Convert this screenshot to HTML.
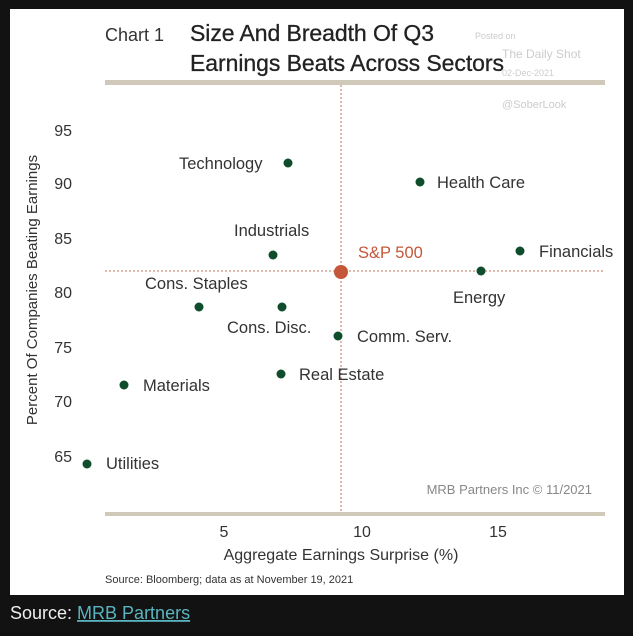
<!DOCTYPE html>
<html><head><meta charset="utf-8"><style>
body{margin:0;background:#111;width:633px;height:631px;overflow:hidden;font-family:"Liberation Sans",sans-serif}
</style></head><body>
<svg width="633" height="631" viewBox="0 0 633 631" xmlns="http://www.w3.org/2000/svg" font-family="Liberation Sans, sans-serif">
<rect x="0" y="0" width="633" height="631" fill="#121212"/>
<rect x="10" y="9" width="614" height="586" fill="#fff"/>
<text x="105" y="41" font-size="18" fill="#333">Chart 1</text>
<text x="190" y="41" font-size="23" fill="#222" stroke="#222" stroke-width="0.3" textLength="244">Size And Breadth Of Q3</text>
<text x="190" y="71" font-size="23" fill="#222" stroke="#222" stroke-width="0.3" textLength="314">Earnings Beats Across Sectors</text>
<text x="475" y="39" font-size="9" fill="#ccc">Posted on</text>
<text x="502" y="58" font-size="12" fill="#ccc">The Daily Shot</text>
<text x="502" y="76" font-size="9" fill="#ccc">02-Dec-2021</text>
<text x="502" y="108" font-size="11" fill="#ccc">@SoberLook</text>
<rect x="105" y="80" width="500" height="5" fill="#d0c8b8"/>
<rect x="105" y="512" width="500" height="4" fill="#d0c8b8"/>
<line x1="341" y1="85" x2="341" y2="512" stroke="#c0735a" stroke-width="1" stroke-dasharray="2,2"/>
<line x1="105" y1="271" x2="605" y2="271" stroke="#c0735a" stroke-width="1" stroke-dasharray="2,2"/>
<g font-size="16" fill="#333" text-anchor="end">
<text x="72" y="136">95</text><text x="72" y="189">90</text><text x="72" y="244">85</text>
<text x="72" y="298">80</text><text x="72" y="353">75</text><text x="72" y="407">70</text><text x="72" y="462">65</text>
</g>
<g font-size="16" fill="#333" text-anchor="middle">
<text x="224" y="537">5</text><text x="362" y="537">10</text><text x="498" y="537">15</text>
<text x="341" y="560">Aggregate Earnings Surprise (%)</text>
</g>
<text transform="translate(37,290) rotate(-90)" font-size="15" fill="#333" text-anchor="middle">Percent Of Companies Beating Earnings</text>
<text x="105" y="583" font-size="11" fill="#333">Source: Bloomberg; data as at November 19, 2021</text>
<text x="592" y="494" font-size="13" fill="#888" text-anchor="end">MRB Partners Inc © 11/2021</text>
<g fill="#0f4d2c">
<circle cx="288" cy="163" r="4.5"/><circle cx="420" cy="182" r="4.5"/><circle cx="273" cy="255" r="4.5"/>
<circle cx="520" cy="251" r="4.5"/><circle cx="481" cy="271" r="4.5"/><circle cx="199" cy="307" r="4.5"/>
<circle cx="282" cy="307" r="4.5"/><circle cx="338" cy="336" r="4.5"/><circle cx="124" cy="385" r="4.5"/>
<circle cx="281" cy="374" r="4.5"/><circle cx="87" cy="464" r="4.5"/>
</g>
<circle cx="341" cy="272" r="7" fill="#c4573a"/>
<g font-size="16.5" fill="#333">
<text x="179" y="169">Technology</text>
<text x="437" y="188">Health Care</text>
<text x="234" y="236">Industrials</text>
<text x="539" y="257">Financials</text>
<text x="453" y="303">Energy</text>
<text x="145" y="289">Cons. Staples</text>
<text x="227" y="333">Cons. Disc.</text>
<text x="357" y="342">Comm. Serv.</text>
<text x="143" y="391">Materials</text>
<text x="299" y="380">Real Estate</text>
<text x="106" y="469">Utilities</text>
</g>
<text x="358" y="258" font-size="16.5" fill="#c4573a">S&amp;P 500</text>
<text x="10" y="619" font-size="18" fill="#eee">Source: <tspan fill="#5ab4c0" text-decoration="underline">MRB Partners</tspan></text>
</svg>
</body></html>
